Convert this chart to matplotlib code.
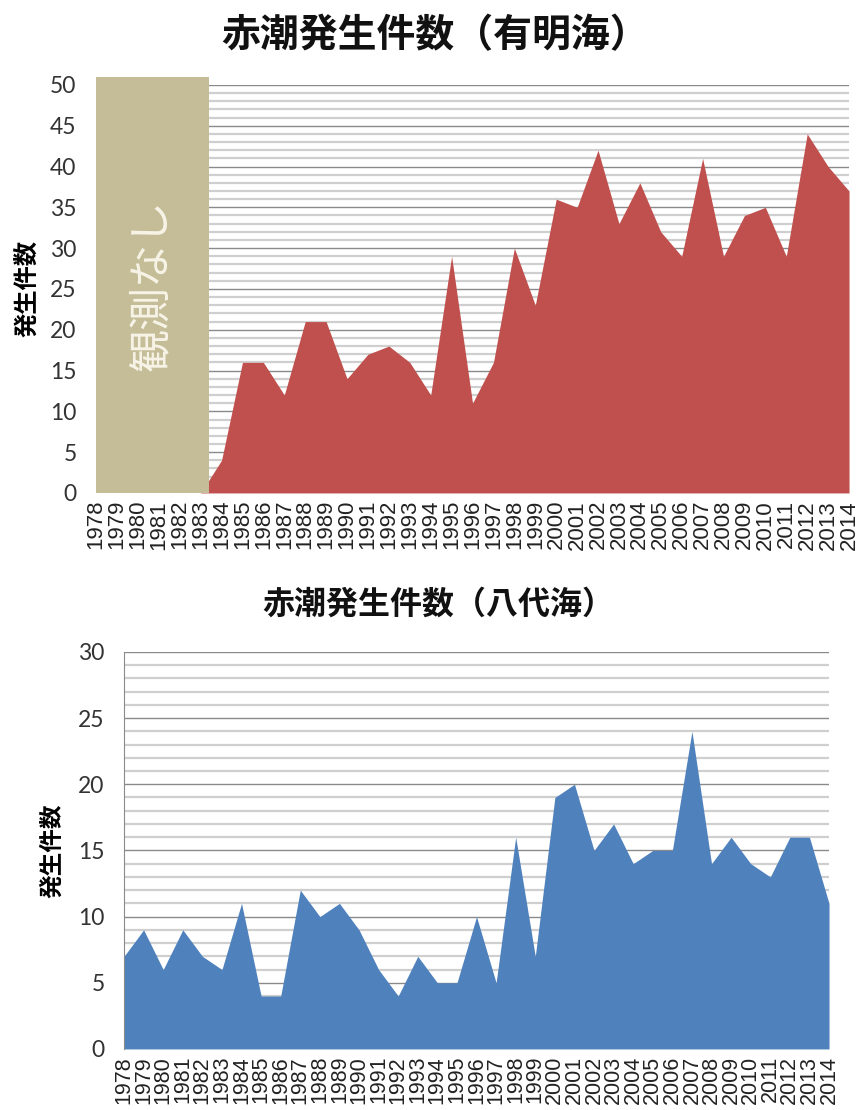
import matplotlib
matplotlib.use("Agg")
import matplotlib.pyplot as plt
from matplotlib.ticker import MultipleLocator

plt.rcParams["font.family"] = ["Noto Sans CJK JP", "DejaVu Sans"]

# Data
years = list(range(1978, 2015))
ariake_counts = [None, None, None, None, None, 0, 4, 16, 16, 12, 21, 21, 14, 17, 18, 16, 12, 29,
                 11, 16, 30, 23, 36, 35, 42, 33, 38, 32, 29, 41, 29, 34, 35, 29, 44, 40, 37]
yatsushiro_counts = [7, 9, 6, 9, 7, 6, 11, 4, 4, 12, 10, 11, 9, 6, 4, 7, 5, 5,
                     10, 5, 16, 7, 19, 20, 15, 17, 14, 15, 15, 24, 14, 16, 14, 13, 16, 16, 11]
year_labels = [str(y) for y in years]
no_obs_end = 1983.4  # observation gap shaded until here

RED = "#C0504D"
BLUE = "#4F81BD"
BAND = "#C4BD97"
MAJOR_GRID = "#8a8a8a"
MINOR_GRID = "#cfcfcf"


def style_axes(ax, ymax, show_left, xfont):
    ax.set_xlim(years[0], years[-1])
    ax.set_ylim(0, ymax)
    ax.yaxis.set_major_locator(MultipleLocator(5))
    ax.yaxis.set_minor_locator(MultipleLocator(1))
    ax.grid(axis="y", which="major", color=MAJOR_GRID, lw=1.0, zorder=0)
    ax.grid(axis="y", which="minor", color=MINOR_GRID, lw=1.6, zorder=0)
    ax.set_axisbelow(True)
    ax.set_xticks(years)
    ax.set_xticklabels(year_labels, rotation=90, family="Liberation Sans",
                       fontsize=xfont, color="#222222")
    for lab in ax.get_yticklabels():
        lab.set_family("Lato")
        lab.set_fontsize(16.5)
        lab.set_color("#333333")
    ax.tick_params(axis="both", which="both", length=0)
    ax.tick_params(axis="y", pad=14)
    ax.tick_params(axis="x", pad=5)
    for side in ["top", "right", "bottom"]:
        ax.spines[side].set_visible(False)
    ax.spines["left"].set_visible(show_left)
    ax.spines["left"].set_color("#8a8a8a")


fig = plt.figure(figsize=(8.59, 11.10), dpi=100)

# Ariake Sea
ax1 = fig.add_axes([0.1118, 0.5559, 0.8766, 0.3676])
ya = [v if v is not None else float("nan") for v in ariake_counts]
ax1.fill_between(years, ya, 0, color=RED, lw=0, zorder=2)
style_axes(ax1, 50, False, 16)
ax1.axvspan(years[0], no_obs_end, ymin=0, ymax=51 / 50, color=BAND, lw=0,
            zorder=3, clip_on=False)
ax1.text((years[0] + no_obs_end) / 2, 25.5, "観測なし", rotation=90, ha="center",
         va="center", fontsize=31, color="#F7F3E6", zorder=4)
ax1.set_ylabel("発生件数", fontsize=17.5, fontweight="bold", labelpad=8)
fig.text(0.507, 0.968, "赤潮発生件数（有明海）", ha="center", va="center",
         fontsize=28, fontweight="bold", color="#111111")

# Yatsushiro Sea
ax2 = fig.add_axes([0.1444, 0.0550, 0.8207, 0.3577])
ax2.fill_between(years, yatsushiro_counts, 0, color=BLUE, lw=0, zorder=2)
style_axes(ax2, 30, True, 15.5)
ax2.set_ylabel("発生件数", fontsize=17, fontweight="bold", labelpad=10)
fig.text(0.510, 0.455, "赤潮発生件数（八代海）", ha="center", va="center",
         fontsize=23, fontweight="bold", color="#111111")

fig.savefig("out.png", dpi=100)
